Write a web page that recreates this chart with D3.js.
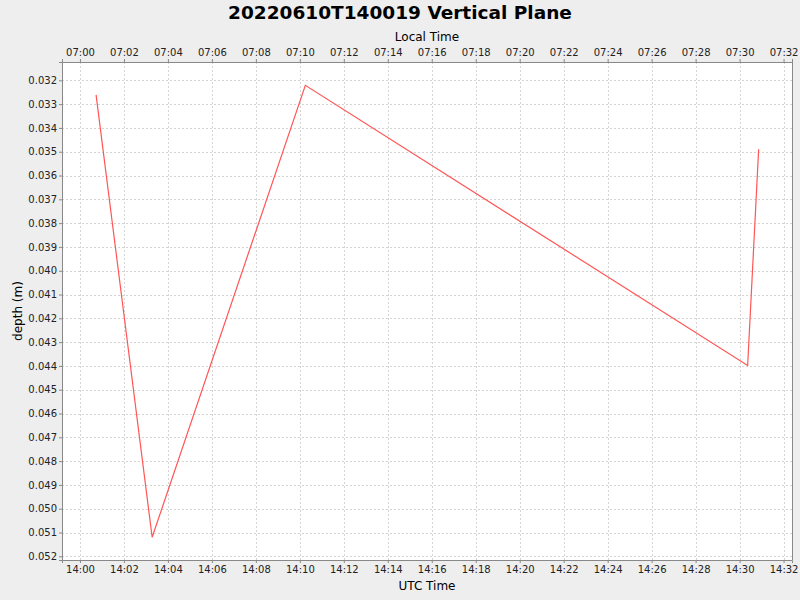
<!DOCTYPE html>
<html><head><meta charset="utf-8">
<script src="https://cdn.jsdelivr.net/npm/d3@7"></script>
<style>
html,body{margin:0;padding:0;background:#eeeeee;}
svg{display:block;font-family:"DejaVu Sans",sans-serif;}
</style></head>
<body>
<svg id="chart" width="800" height="600"></svg>
<script>
const titleText = "20220610T140019 Vertical Plane";
const times = ["2022-06-10T14:00:44Z","2022-06-10T14:03:17Z","2022-06-10T14:10:15Z","2022-06-10T14:30:22Z","2022-06-10T14:30:52Z"];
const depths = [0.03261, 0.05120, 0.03221, 0.04398, 0.03490];
const xDomain = ["2022-06-10T13:59:11Z","2022-06-10T14:32:23Z"];
const yDomain = [0.03123, 0.052155];
const yTicks = [0.032,0.033,0.034,0.035,0.036,0.037,0.038,0.039,0.040,0.041,0.042,0.043,0.044,0.045,0.046,0.047,0.048,0.049,0.050,0.051,0.052];
const localOffsetHours = -7;

const svg = d3.select("#chart");
const L=62,R=792,T=62,B=560;
const x = d3.scaleUtc().domain(xDomain.map(d=>new Date(d))).range([L,R]);
const xLocal = d3.scaleUtc().domain(xDomain.map(d=>new Date(new Date(d).getTime()+localOffsetHours*3600e3))).range([L,R]);
const y = d3.scaleLinear().domain(yDomain).range([T,B]);

svg.append("rect").attr("x",L).attr("y",T).attr("width",R-L).attr("height",B-T).attr("fill","#ffffff");

const xt = x.ticks(d3.utcMinute.every(2));
const g = svg.append("g");
g.selectAll("line.vx").data(xt).join("line")
 .attr("x1",d=>Math.round(x(d))+0.5).attr("x2",d=>Math.round(x(d))+0.5).attr("y1",T).attr("y2",B)
 .attr("stroke","#d4d4d4").attr("stroke-dasharray","2,2");
g.selectAll("line.hy").data(yTicks).join("line")
 .attr("y1",d=>Math.round(y(d))+0.5).attr("y2",d=>Math.round(y(d))+0.5).attr("x1",L).attr("x2",R)
 .attr("stroke","#d4d4d4").attr("stroke-dasharray","2,2");

const fmt = d3.utcFormat("%H:%M");
const axBottom = svg.append("g").attr("transform",`translate(0,${B})`)
 .call(d3.axisBottom(x).ticks(d3.utcMinute.every(2)).tickFormat(fmt).tickSize(3).tickPadding(3));
const axTop = svg.append("g").attr("transform",`translate(0,${T})`)
 .call(d3.axisTop(xLocal).ticks(d3.utcMinute.every(2)).tickFormat(fmt).tickSize(3).tickPadding(3));
const axLeft = svg.append("g").attr("transform",`translate(${L},0)`)
 .call(d3.axisLeft(y).tickValues(yTicks).tickFormat(d3.format(".3f")).tickSize(3).tickPadding(2));
[axBottom,axTop,axLeft].forEach(a=>{
  a.select(".domain").attr("stroke","#888888");
  a.selectAll(".tick line").attr("stroke","#888888");
  a.selectAll("text").attr("font-family","DejaVu Sans, sans-serif").attr("font-size",10).attr("fill","#222222");
});
svg.append("line").attr("x1",R+0.5).attr("x2",R+0.5).attr("y1",T).attr("y2",B).attr("stroke","#888888");

const line = d3.line().x(d=>x(d.t)).y(d=>y(d.v));
const data = times.map((t,i)=>({t:new Date(t),v:depths[i]}));
svg.append("path").datum(data).attr("d",line).attr("fill","none").attr("stroke","#ff5555").attr("stroke-width",1.2);

svg.append("text").attr("x",400).attr("y",19).attr("text-anchor","middle")
 .attr("font-size",18.5).attr("font-weight","bold").attr("fill","#000").text(titleText);
svg.append("text").attr("x",427).attr("y",41).attr("text-anchor","middle").attr("font-size",12).attr("fill","#000").text("Local Time");
svg.append("text").attr("x",427).attr("y",590).attr("text-anchor","middle").attr("font-size",12).attr("fill","#000").text("UTC Time");
svg.append("text").attr("transform","translate(22,311) rotate(-90)").attr("text-anchor","middle").attr("font-size",12).attr("fill","#000").text("depth (m)");
</script>
</body></html>
